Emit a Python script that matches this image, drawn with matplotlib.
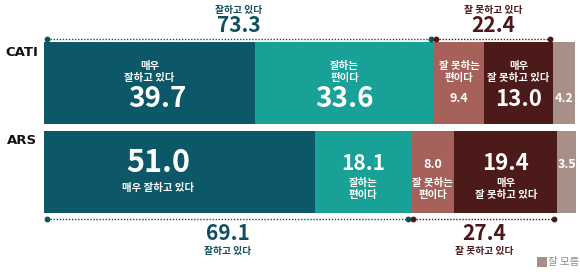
import matplotlib.pyplot as plt
import numpy as np

plt.rcParams['font.family'] = ['Noto Sans CJK KR', 'DejaVu Sans']

# data
methods = ["CATI", "ARS"]
categories = ["매우 잘하고 있다", "잘하는 편이다", "잘 못하는 편이다", "매우 잘 못하고 있다", "잘 모름"]
cati_values = [39.7, 33.6, 9.4, 13.0, 4.2]
ars_values = [51.0, 18.1, 8.0, 19.4, 3.5]
cati_good, cati_bad = 73.3, 22.4
ars_good, ars_bad = 69.1, 27.4

# in-bar labels (line broken as in the picture)
cati_labels = ["매우\n잘하고 있다", "잘하는\n편이다", "잘 못하는\n편이다", "매우\n잘 못하고 있다", ""]
ars_labels = ["매우 잘하고 있다", "잘하는\n편이다", "잘 못하는\n편이다", "매우\n잘 못하고 있다", ""]

colors = ["#0c5869", "#17a197", "#a6615a", "#4c1a19", "#a88f88"]
good_color = "#0f4f5f"
bad_color = "#4b1819"

fig = plt.figure(figsize=(5.8, 2.72), dpi=100)
ax = fig.add_axes([0, 0, 1, 1])
px = 5.32  # pixels per percent
ax.set_xlim(-44 / px, 536 / px)
ax.set_ylim(272, 0)
ax.axis("off")

bar_y = {"CATI": 83, "ARS": 171.5}
bar_h = 82

for m, vals in zip(methods, [cati_values, ars_values]):
    lefts = np.concatenate([[0], np.cumsum(vals)[:-1]])
    ax.barh(bar_y[m], vals, left=lefts, height=bar_h, color=colors, linewidth=0)
    ax.text(-22 / px, bar_y[m] - 31, m, ha="center", va="center",
            fontsize=9.5, fontweight="bold", color="#111111", family="DejaVu Sans")

# CATI in-bar text
lefts = np.concatenate([[0], np.cumsum(cati_values)[:-1]])
num_sizes = [20, 20, 9, 16, 9]
for i, (l, v) in enumerate(zip(lefts, cati_values)):
    cx = l + v / 2
    if cati_labels[i]:
        ax.text(cx, 72, cati_labels[i], ha="center", va="center", fontsize=7.5,
                color="white", fontweight="bold", linespacing=1.25)
    ax.text(cx + (1.5 if i == 0 else 0), 99, f"{v:.1f}", ha="center", va="center",
            fontsize=num_sizes[i], color="white", fontweight="bold")

# ARS in-bar text
lefts = np.concatenate([[0], np.cumsum(ars_values)[:-1]])
num_sizes = [22, 15, 9, 16, 9]
for i, (l, v) in enumerate(zip(lefts, ars_values)):
    cx = l + v / 2
    if i == 0:
        cx = l + v * 0.42
        ax.text(cx, 163, f"{v:.1f}", ha="center", va="center", fontsize=num_sizes[i],
                color="white", fontweight="bold")
        ax.text(cx, 188, ars_labels[i], ha="center", va="center", fontsize=7.5,
                color="white", fontweight="bold")
        continue
    ax.text(cx, 164, f"{v:.1f}", ha="center", va="center", fontsize=num_sizes[i],
            color="white", fontweight="bold")
    if ars_labels[i]:
        ax.text(cx, 189, ars_labels[i], ha="center", va="center", fontsize=7.5,
                color="white", fontweight="bold", linespacing=1.25)

# dotted brackets
def bracket(y, good, bad):
    dot = dict(linestyle=(0, (1, 1.2)), linewidth=1.0)
    ax.plot([0.5, good - 0.6], [y, y], color=good_color, **dot)
    ax.plot([good + 0.3, good + bad - 0.6], [y, y], color=bad_color, **dot)
    ax.plot([0.5, good - 0.6], [y, y], "o", color=good_color, ms=3.2)
    ax.plot([good + 0.3, good + bad - 0.6], [y, y], "o", color=bad_color, ms=3.2)

bracket(38.5, cati_good, cati_bad)
bracket(218.5, ars_good, ars_bad)

# totals above CATI
ax.text(cati_good / 2, 10, "잘하고 있다", ha="center", va="center", fontsize=7,
        color=good_color, fontweight="bold")
ax.text(cati_good / 2, 26, f"{cati_good:.1f}", ha="center", va="center", fontsize=15,
        color=good_color, fontweight="bold")
ax.text(cati_good + cati_bad / 2, 10, "잘 못하고 있다", ha="center", va="center", fontsize=7,
        color=bad_color, fontweight="bold")
ax.text(cati_good + cati_bad / 2, 26, f"{cati_bad:.1f}", ha="center", va="center", fontsize=15,
        color=bad_color, fontweight="bold")

# totals below ARS
ax.text(ars_good / 2, 233, f"{ars_good:.1f}", ha="center", va="center", fontsize=15,
        color=good_color, fontweight="bold")
ax.text(ars_good / 2, 251, "잘하고 있다", ha="center", va="center", fontsize=7,
        color=good_color, fontweight="bold")
ax.text(ars_good + ars_bad / 2, 233, f"{ars_bad:.1f}", ha="center", va="center", fontsize=15,
        color=bad_color, fontweight="bold")
ax.text(ars_good + ars_bad / 2, 251, "잘 못하고 있다", ha="center", va="center", fontsize=7,
        color=bad_color, fontweight="bold")

# legend for 잘 모름
ax.text(100.6, 262, categories[4], ha="right", va="center", fontsize=7.5, color="#8f8f8f")
ax.scatter([(542 - 44) / px], [262], marker="s", s=42, color=colors[4], linewidths=0)

fig.savefig("out.png", dpi=100)
